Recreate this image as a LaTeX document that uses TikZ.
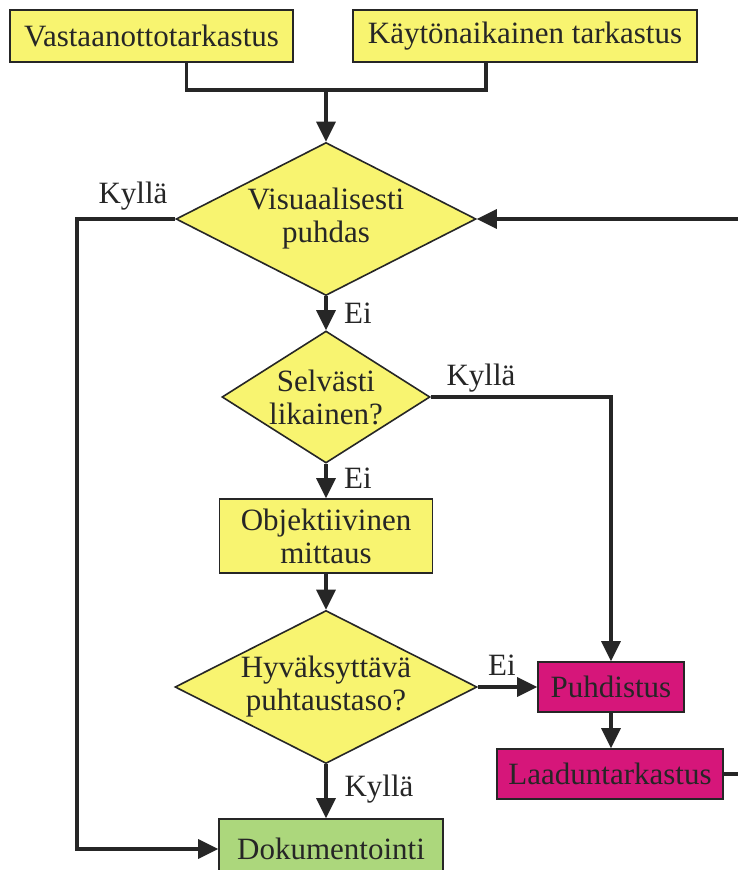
\documentclass[tikz,border=0pt]{standalone}
\usepackage{fontspec}
\setmainfont{Liberation Serif}
\usetikzlibrary{shapes.geometric,arrows.meta}

\definecolor{boxyellow}{RGB}{248,244,112}
\definecolor{boxmagenta}{RGB}{214,22,122}
\definecolor{boxgreen}{RGB}{172,215,124}
\definecolor{inkgray}{RGB}{38,38,38}

\begin{document}
\begin{tikzpicture}[x=1pt,y=-1pt,
    font=\fontsize{31}{33}\selectfont, text=inkgray,
    box/.style={draw=inkgray, line width=1.6pt, rectangle, inner sep=0pt, align=center},
    decision/.style={draw=inkgray, line width=1.6pt, diamond, inner sep=0pt, fill=boxyellow},
    asks/.style={label={[align=center, text=inkgray]center:#1}},
    line/.style={draw=inkgray, line width=3.4pt},
    arrow/.style={line, -{Triangle[length=20pt,width=19pt]}}]
        \useasboundingbox[fill=white] (0,0) rectangle (737,870);

        % the two starting checks
        \node[box, fill=boxyellow, minimum width=283pt, minimum height=52pt] (vasta) at (151.5,36) {Vastaanottotarkastus};
        \node[box, fill=boxyellow, minimum width=344pt, minimum height=52pt] (kayton) at (525,36) {Käytönaikainen tarkastus};

        % the decisions and the steps
        \node[decision, minimum width=300pt, minimum height=153pt, asks={Visuaalisesti\\puhdas}] (visu) at (326,219) {};
        \node[decision, minimum width=208pt, minimum height=132pt, asks={Selvästi\\likainen?}] (selv) at (326,397) {};
        \node[box, fill=boxyellow, minimum width=213pt, minimum height=74pt] (obj) at (326,536) {Objektiivinen\\mittaus};
        \node[decision, minimum width=302pt, minimum height=153pt, asks={Hyväksyttävä\\puhtaustaso?}] (hyv) at (326,687) {};
        \node[box, fill=boxgreen, minimum width=224pt, minimum height=60pt] (dok) at (331,849) {Dokumentointi};
        \node[box, fill=boxmagenta, minimum width=146pt, minimum height=50pt] (puhd) at (611,687) {Puhdistus};
        \node[box, fill=boxmagenta, minimum width=226pt, minimum height=50pt] (laad) at (610,774) {Laaduntarkastus};

        % helper points for the rails
        \coordinate (join) at (326,90);
        \coordinate (leftrail) at (77,219);
        \coordinate (rightrail) at (745,774);

        % merge the two checks
        \draw[line] ([xshift=35pt]vasta.south) |- (join);
        \draw[line] ([xshift=-39pt]kayton.south) |- (join);
        \draw[arrow] (join) -- (visu.north);

        % main flow
        \draw[arrow] (visu.south) -- (selv.north);
        \draw[arrow] (selv.south) -- (obj.north);
        \draw[arrow] (obj.south) -- (hyv.north);
        \draw[arrow] (hyv.south) -- (hyv.south |- dok.north);
        \draw[arrow] (hyv.east) -- (puhd.west);
        \draw[arrow] (selv.east) -| (puhd.north);
        \draw[arrow] (puhd.south) -- (puhd.south |- laad.north);

        % the rails round the sides
        \draw[arrow] (visu.west) -- (leftrail) |- (dok.west);
        \draw[arrow] (laad.east) -- (rightrail) |- (visu.east);

        % yes / no labels
        \node (kylla1) at (133,196) {Kyllä};
        \node (ei1) at (358,313) {Ei};
        \node (kylla2) at (481,378) {Kyllä};
        \node (ei2) at (358,478) {Ei};
        \node (ei3) at (502,665) {Ei};
        \node (kylla3) at (379,789) {Kyllä};
    \end{tikzpicture}
\end{document}
